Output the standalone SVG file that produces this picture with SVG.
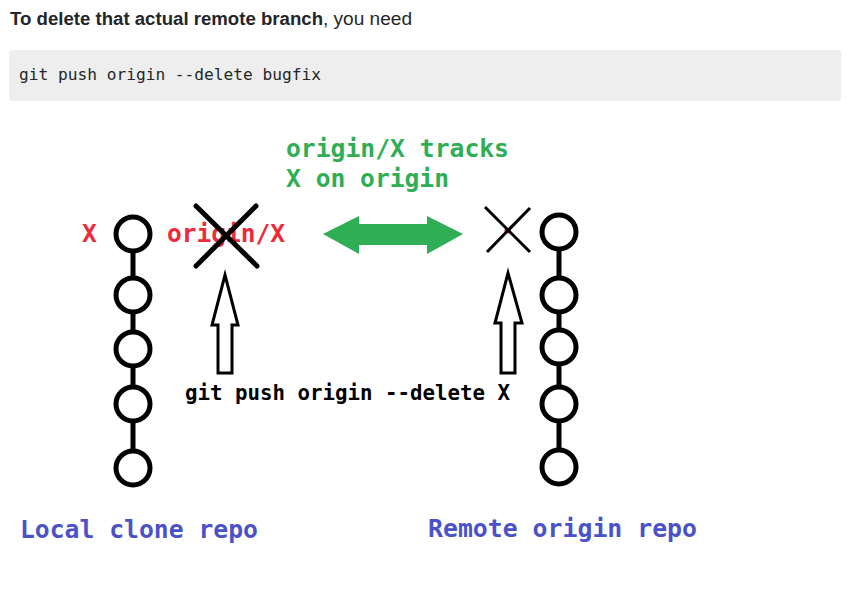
<svg xmlns="http://www.w3.org/2000/svg" width="855" height="591" viewBox="0 0 855 591">
<style>
.commit{fill:#fff;stroke:#000;stroke-width:5}
.link{stroke:#000;stroke-width:5}
.mono{font-family:"DejaVu Sans Mono","Liberation Mono",monospace;font-weight:bold}
.red{fill:#ee2a3a}
.green{fill:#2fae55}
.blue{fill:#4b52c9}
.push{fill:#fff;stroke:#000;stroke-width:3;stroke-linejoin:miter}
</style>
<rect width="855" height="591" fill="#fff"/>
<g id="header">
<text y="25" font-family="Liberation Sans, Arial, sans-serif" font-size="18" fill="#242729"><tspan x="10" font-weight="bold" textLength="313" lengthAdjust="spacingAndGlyphs">To delete that actual remote branch</tspan><tspan x="323" textLength="89" lengthAdjust="spacingAndGlyphs">, you need</tspan></text>
</g>
<g id="code">
<rect x="9" y="50" width="832" height="51" rx="3" fill="#eeeeee"/>
<text x="19" y="80" font-family="DejaVu Sans Mono, Liberation Mono, monospace" font-size="16" fill="#242729" textLength="302" lengthAdjust="spacingAndGlyphs">git push origin --delete bugfix</text>
</g>
<g id="connectors">
<line class="link" x1="133" y1="234" x2="133" y2="468"/>
<line class="link" x1="559" y1="232" x2="559" y2="467"/>
<polygon id="track-arrow" class="green" points="323,234 359,216 359,224 427,224 427,216 463,234 427,254 427,245 359,245 359,254"/>
<polygon id="push-left" class="push" points="225,275 238,325 232,325 232,373 218,373 218,325 212,325"/>
<polygon id="push-right" class="push" points="508,273 522,323 515,323 515,373 501,373 501,323 495,323"/>
</g>
<g id="local-repo">
<circle class="commit" cx="133" cy="234" r="17"/>
<circle class="commit" cx="133" cy="295" r="17"/>
<circle class="commit" cx="133" cy="349" r="17"/>
<circle class="commit" cx="133" cy="404" r="17"/>
<circle class="commit" cx="133" cy="468" r="17"/>
</g>
<g id="remote-repo">
<circle class="commit" cx="559" cy="232" r="17"/>
<circle class="commit" cx="559" cy="295" r="17"/>
<circle class="commit" cx="559" cy="347" r="17"/>
<circle class="commit" cx="559" cy="404" r="17"/>
<circle class="commit" cx="559" cy="467" r="17"/>
</g>
<g id="local-labels">
<text class="mono red" x="82" y="242" font-size="24.5">X</text>
<text class="mono red" x="167" y="242" font-size="24.5" textLength="118" lengthAdjust="spacingAndGlyphs">origin/X</text>
<g id="local-cross" stroke="#000" stroke-width="5" stroke-linecap="round">
<line x1="196" y1="206" x2="257" y2="266"/>
<line x1="256" y1="206" x2="196" y2="266"/>
</g>
</g>
<g id="remote-cross">
<line x1="505" y1="229" x2="510" y2="232" stroke="#ee2a3a" stroke-width="4"/>
<line x1="485" y1="207" x2="530" y2="252" stroke="#000" stroke-width="3"/>
<line x1="530" y1="208" x2="487" y2="252" stroke="#000" stroke-width="3"/>
</g>
<g id="tracks-label">
<text class="mono green" x="286" y="157" font-size="24.5" textLength="223" lengthAdjust="spacingAndGlyphs">origin/X tracks</text>
<text class="mono green" x="286" y="187" font-size="24.5" textLength="163" lengthAdjust="spacingAndGlyphs">X on origin</text>
</g>
<g id="push-label">
<text class="mono" x="185" y="400" font-size="20.5" fill="#000" textLength="325" lengthAdjust="spacingAndGlyphs">git push origin --delete X</text>
</g>
<g id="repo-labels">
<text class="mono blue" x="20" y="538" font-size="24.5" textLength="238" lengthAdjust="spacingAndGlyphs">Local clone repo</text>
<text class="mono blue" x="428" y="537" font-size="24.5" textLength="269" lengthAdjust="spacingAndGlyphs">Remote origin repo</text>
</g>
</svg>
